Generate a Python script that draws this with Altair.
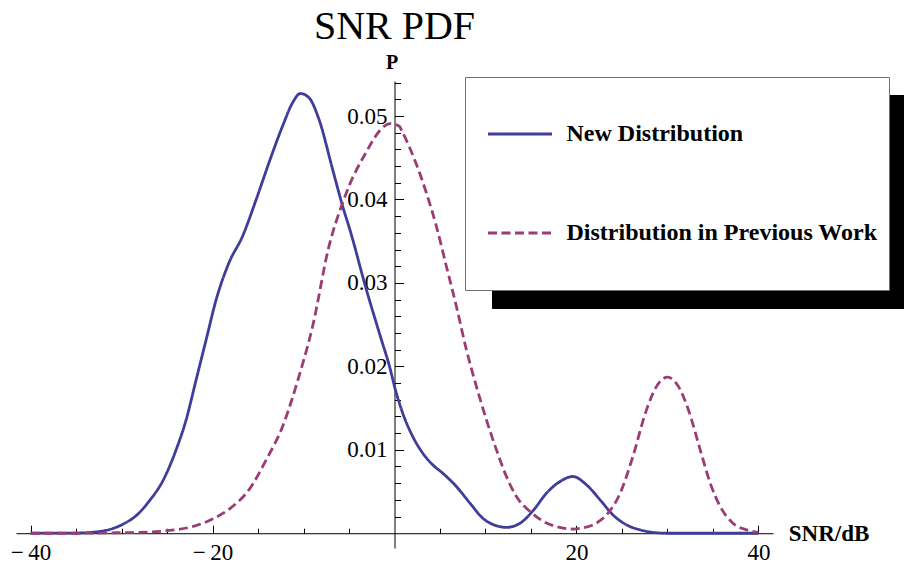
import altair as alt
import pandas as pd

# ---------------- data ----------------
series_names = ["New Distribution", "Distribution in Previous Work"]
series_colors = ["#3f3d99", "#993d74"]

new_x = [-40, -35, -32.5, -30, -28.1, -27, -25.5, -24, -22.9, -21.8, -20.7, -19.6,
         -18.2, -16.7, -15.2, -13.8, -12.3, -11.2, -10.35, -9.4, -8.3, -6.8, -5.7,
         -4.8, -3.2, -1.5, -0.5, 0, 0.9, 2.0, 3.1, 4.2, 5.3, 6.8, 8.3, 9.7, 11.2,
         12.3, 13.8, 15.3, 16.7, 18.2, 19.6, 21.1, 22.6, 24.0, 25.5, 27.0, 28.4,
         30, 35, 40]
new_y = [0.0, 0.00002, 0.0002, 0.001, 0.0024, 0.0038, 0.0062, 0.0100, 0.0136, 0.0184,
         0.0232, 0.0280, 0.0324, 0.0356, 0.0400, 0.0444, 0.0488, 0.0516, 0.0527,
         0.0522, 0.0496, 0.0436, 0.0392, 0.0360, 0.0296, 0.0234, 0.0198, 0.0176,
         0.0144, 0.0116, 0.0096, 0.0082, 0.0072, 0.0056, 0.0036, 0.0018, 0.0009,
         0.0007, 0.0012, 0.0028, 0.0048, 0.0062, 0.0068, 0.0058, 0.0040, 0.0022,
         0.0010, 0.0004, 0.0001, 0.0, 0.0, 0.0]

prev_x = [-40, -35, -31, -28, -25, -22.2, -20, -17.8, -16, -14.1, -12.3, -10.5,
          -9.0, -7.2, -5.7, -5.0, -3.2, -1.5, -0.5, 0.5, 0.9, 2.2, 3.5, 4.6, 5.7,
          6.8, 7.9, 9.0, 10.1, 11.2, 12.3, 13.4, 14.9, 16.4, 17.8, 19.7, 20.5, 21.8,
          23.3, 24.8, 26.2, 27.7, 28.8, 30, 31.2, 32.3, 33.6, 34.7, 35.8, 37.2,
          38.7, 40]
prev_y = [0.0, 0.0, 0.00005, 0.0001, 0.0003, 0.0008, 0.0017, 0.0032, 0.0052, 0.0088,
          0.0128, 0.0188, 0.0248, 0.0344, 0.0396, 0.0416, 0.0455, 0.0484, 0.0491,
          0.0488, 0.0480, 0.0448, 0.0408, 0.0368, 0.0320, 0.0272, 0.0220, 0.0176,
          0.0136, 0.0100, 0.0068, 0.0044, 0.0026, 0.0014, 0.0008, 0.0005, 0.0006,
          0.0010, 0.0022, 0.0048, 0.0092, 0.0148, 0.0176, 0.0187, 0.0176, 0.0148,
          0.0100, 0.0060, 0.0032, 0.0012, 0.0004, 0.0001]

x_major = [-40, -20, 20, 40]
x_minor = [-40, -35, -30, -25, -20, -15, -10, -5, 5, 10, 15, 20, 25, 30, 35, 40]
y_major = [0.01, 0.02, 0.03, 0.04, 0.05]
y_minor = [0.002, 0.004, 0.006, 0.008, 0.010, 0.012, 0.014, 0.016, 0.018, 0.020,
           0.022, 0.024, 0.026, 0.028, 0.030, 0.032, 0.034, 0.036, 0.038, 0.040,
           0.042, 0.044, 0.046, 0.048, 0.050, 0.052, 0.054]

df = pd.concat([
    pd.DataFrame({"x": new_x, "y": new_y, "series": series_names[0]}),
    pd.DataFrame({"x": prev_x, "y": prev_y, "series": series_names[1]}),
], ignore_index=True)
df["shadow"] = df["series"]

# ---------------- layout ----------------
W, H = 757, 467
X_MIN, X_MAX = -41.6, 41.6
Y_MIN, Y_MAX = -0.00177, 0.0542
x0 = W * (0 - X_MIN) / (X_MAX - X_MIN)
y0 = H * (Y_MAX - 0) / (Y_MAX - Y_MIN)
FONT = "Liberation Serif"

xs = alt.Scale(domain=[X_MIN, X_MAX], nice=False, zero=False)
ys = alt.Scale(domain=[Y_MIN, Y_MAX], nice=False, zero=False)

legend_common = dict(
    orient="none", title=None, direction="vertical", columns=1, symbolType="stroke",
    symbolSize=4096, symbolStrokeWidth=2.8, labelFont=FONT, labelFontSize=24,
    labelFontWeight="bold", labelLimit=600, padding=11, symbolOffset=10.5,
    labelOffset=13, clipHeight=92, rowPadding=7, cornerRadius=0,
)
main_legend = alt.Legend(legendX=449, legendY=-4, fillColor="white",
                         strokeColor="#707070", labelColor="black", **legend_common)
shadow_legend = alt.Legend(legendX=476, legendY=14, fillColor="black",
                           strokeColor="black", labelColor="black", labelOpacity=0,
                           symbolStrokeColor="black", **legend_common)

# shadow layer first so its (black) legend is drawn beneath the main legend
shadow = alt.Chart(df).mark_line(opacity=0).encode(
    x=alt.X("x:Q", scale=xs, axis=None),
    y=alt.Y("y:Q", scale=ys, axis=None),
    color=alt.Color("shadow:N", sort=series_names,
                    scale=alt.Scale(range=["black", "black"]), legend=shadow_legend),
)

lines = alt.Chart(df).mark_line(strokeWidth=2.8, interpolate="monotone").encode(
    x=alt.X("x:Q", scale=xs,
            axis=alt.Axis(orient="top", offset=-y0, values=x_minor, tickSize=5,
                          labels=False, title=None, grid=False, domain=True)),
    y=alt.Y("y:Q", scale=ys,
            axis=alt.Axis(orient="right", offset=x0 - W, values=y_minor, tickSize=6,
                          labels=False, title=None, grid=False, domain=True)),
    color=alt.Color("series:N", scale=alt.Scale(domain=series_names, range=series_colors),
                    legend=main_legend),
    strokeDash=alt.StrokeDash("series:N",
                              scale=alt.Scale(domain=series_names, range=[[1, 0], [9, 4.5]]),
                              legend=main_legend),
)

major = alt.Chart(df).mark_line(opacity=0).encode(
    x=alt.X("x:Q", scale=xs,
            axis=alt.Axis(orient="top", offset=-y0, values=x_major, tickSize=8,
                          labels=False, title=None, grid=False, domain=False)),
    y=alt.Y("y:Q", scale=ys,
            axis=alt.Axis(orient="right", offset=x0 - W, values=y_major, tickSize=9,
                          labels=False, title=None, grid=False, domain=False)),
    detail="series:N",
)

labels = alt.Chart(df).mark_line(opacity=0).encode(
    x=alt.X("x:Q", scale=xs,
            axis=alt.Axis(orient="bottom", offset=y0 - H, values=x_major, ticks=False,
                          tickSize=0, domain=False, grid=False, labelPadding=8,
                          labelFlush=False, format="d",
                          labelExpr="datum.value < 0 ? '\u2212\u2009' + abs(datum.value) : datum.label",
                          title="SNR/dB",
                          titleX=812.5, titleY=0, titleBaseline="middle",
                          titleAlign="center", titleAngle=0, titleFont=FONT,
                          titleFontSize=23, titleFontWeight="bold", titleColor="black")),
    y=alt.Y("y:Q", scale=ys,
            axis=alt.Axis(orient="left", offset=-x0, values=y_major, ticks=False,
                          tickSize=0, domain=False, grid=False, labelPadding=7.5,
                          labelFlush=False, format=".2f", title="P",
                          titleX=-3, titleY=-12.5, titleBaseline="alphabetic",
                          titleAlign="center", titleAngle=0, titleFont=FONT,
                          titleFontSize=20, titleFontWeight="bold", titleColor="black")),
    detail="series:N",
)

chart = alt.layer(shadow, lines, major, labels).resolve_axis(
    x="independent", y="independent"
).resolve_scale(
    color="independent", strokeDash="independent"
).properties(
    width=W, height=H, autosize="none",
    padding={"left": 16, "top": 81, "right": 131, "bottom": 16},
    title=alt.Title("SNR PDF", font=FONT, fontSize=40, fontWeight="normal",
                    color="black", anchor="middle", frame="group", offset=6),
    background="white",
).configure_view(stroke=None).configure_axis(
    domainColor="black", tickColor="black", labelColor="black", labelFont=FONT,
    labelFontSize=23, domainWidth=1, tickWidth=1,
)

chart.save("out.html", embed_options={"renderer": "svg", "actions": False})
